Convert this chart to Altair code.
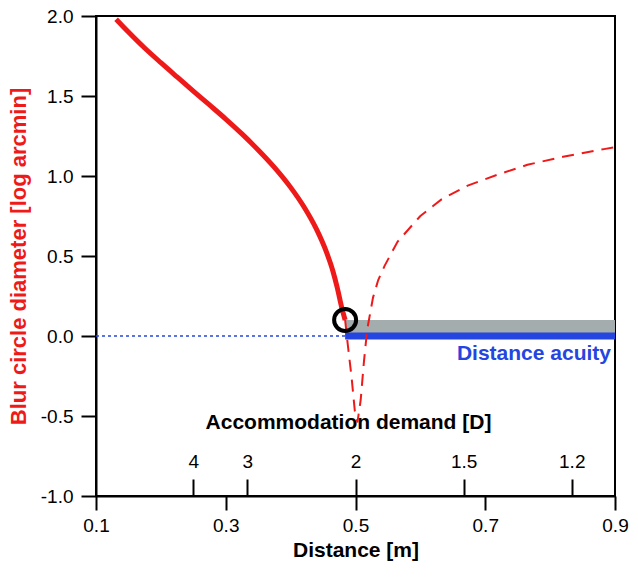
import altair as alt
import pandas as pd

# ---- data ----
solid_dist = [0.131, 0.15, 0.175, 0.2, 0.225, 0.25, 0.275, 0.3, 0.325, 0.35,
              0.375, 0.4, 0.42, 0.44, 0.455, 0.465, 0.472, 0.479, 0.484]
solid_blur = [1.98, 1.90, 1.80, 1.708, 1.619, 1.531, 1.444, 1.356, 1.263, 1.163,
              1.054, 0.929, 0.811, 0.666, 0.527, 0.408, 0.30, 0.174, 0.10]

dashed_dist = [0.484, 0.488, 0.494, 0.499, 0.503, 0.508, 0.513, 0.518, 0.527, 0.535,
               0.545, 0.565, 0.6, 0.633, 0.673, 0.72, 0.765, 0.82, 0.883, 0.9]
dashed_blur = [0.10, -0.05, -0.26, -0.47, -0.54, -0.40, -0.16, 0.04, 0.24, 0.35,
               0.44, 0.59, 0.75, 0.855, 0.94, 1.01, 1.07, 1.12, 1.168, 1.18]

focus_dist = [0.484]
focus_blur = [0.10]

acuity_start = [0.484]
acuity_end = [0.9]
acuity_low = [0.0]
acuity_high = [0.1]

dotted_start = [0.1]

x_ticks = [0.1, 0.3, 0.5, 0.7, 0.9]
y_ticks = [-1.0, -0.5, 0.0, 0.5, 1.0, 1.5, 2.0]
demand_labels = [4, 3, 2, 1.5, 1.2]
demand_dist = [1.0 / d for d in demand_labels]

FONT = "Liberation Sans"
RED = "#ee1a1a"
BLUE = "#2545e0"
GRAY = "#a3adae"
PLOT_W = 519
PLOT_H = 480

solid_df = pd.DataFrame({"dist": solid_dist, "blur": solid_blur})
dashed_df = pd.DataFrame({"dist": dashed_dist, "blur": dashed_blur})
focus_df = pd.DataFrame({"dist": focus_dist, "blur": focus_blur})
band_df = pd.DataFrame({"x": acuity_start, "x2": acuity_end, "y": acuity_low, "y2": acuity_high})
acuity_df = pd.DataFrame({"x": acuity_start, "x2": acuity_end, "y": acuity_low})
dotted_df = pd.DataFrame({"x": dotted_start, "x2": acuity_start, "y": acuity_low})
label_df = pd.DataFrame({"x": acuity_end, "y": [-0.11], "label": ["Distance acuity"]})
demand_df = pd.DataFrame({"dist": demand_dist})

xscale = alt.Scale(domain=[0.1, 0.9], nice=False, zero=False)
yscale = alt.Scale(domain=[-1.0, 2.0], nice=False, zero=False)

xaxis = alt.Axis(values=x_ticks, format=".1f", tickSize=14, tickWidth=2, domainWidth=2,
                 domainColor="black", tickColor="black", labelFontSize=19, labelFont=FONT,
                 labelColor="black", labelPadding=6, labelFlush=False, grid=False,
                 title="Distance [m]", titleFont=FONT, titleFontSize=21,
                 titleFontWeight="bold", titleColor="black", titlePadding=4)
yaxis = alt.Axis(values=y_ticks, tickSize=15, tickWidth=2, domainWidth=2,
                 labelExpr="(datum.value < 0 ? '-' : '') + format(abs(datum.value), '.1f')",
                 domainColor="black", tickColor="black", labelFontSize=19, labelFont=FONT,
                 labelColor="black", labelPadding=8, labelFlush=False, grid=False,
                 title="Blur circle diameter [log arcmin]", titleFont=FONT, titleFontSize=22,
                 titleFontWeight="bold", titleColor=RED, titlePadding=10)

band = alt.Chart(band_df).mark_rect(color=GRAY).encode(
    x=alt.X("x:Q", scale=xscale, axis=xaxis), x2="x2",
    y=alt.Y("y:Q", scale=yscale, axis=yaxis), y2="y2")

dotted = alt.Chart(dotted_df).mark_rule(color=BLUE, strokeWidth=1.5, strokeDash=[3, 3]).encode(
    x=alt.X("x:Q", scale=xscale, axis=xaxis), x2="x2",
    y=alt.Y("y:Q", scale=yscale, axis=yaxis))

acuity = alt.Chart(acuity_df).mark_rule(color=BLUE, strokeWidth=7).encode(
    x=alt.X("x:Q", scale=xscale, axis=xaxis), x2="x2",
    y=alt.Y("y:Q", scale=yscale, axis=yaxis))

dashed = alt.Chart(dashed_df).mark_line(color=RED, strokeWidth=2, strokeDash=[12, 8]).encode(
    x=alt.X("dist:Q", scale=xscale, axis=xaxis),
    y=alt.Y("blur:Q", scale=yscale, axis=yaxis), order="dist:Q")

solid = alt.Chart(solid_df).mark_line(color=RED, strokeWidth=5, interpolate="monotone").encode(
    x=alt.X("dist:Q", scale=xscale, axis=xaxis),
    y=alt.Y("blur:Q", scale=yscale, axis=yaxis), order="dist:Q")

focus = alt.Chart(focus_df).mark_point(shape="circle", size=484, filled=False, stroke="black",
                                       strokeWidth=4, opacity=1).encode(
    x=alt.X("dist:Q", scale=xscale, axis=xaxis),
    y=alt.Y("blur:Q", scale=yscale, axis=yaxis))

label = alt.Chart(label_df).mark_text(align="right", baseline="middle", dx=-4, fontSize=21,
                                      fontWeight="bold", color=BLUE, font=FONT).encode(
    x=alt.X("x:Q", scale=xscale, axis=xaxis),
    y=alt.Y("y:Q", scale=yscale, axis=yaxis), text="label:N")

main = alt.layer(band, dotted, acuity, dashed, solid, focus, label)

demand_axis = alt.Axis(orient="top", offset=-PLOT_H, values=demand_dist,
                       labelExpr="format(1/datum.value, '.1~f')", tickSize=17, tickWidth=2,
                       tickColor="black", domain=False, grid=False, labelFontSize=19,
                       labelFont=FONT, labelColor="black", labelPadding=8, labelFlush=False,
                       title="Accommodation demand [D]", titleFont=FONT, titleFontSize=21,
                       titleFontWeight="bold", titleColor="black", titlePadding=20, titleX=252)

demand = alt.Chart(demand_df).mark_point(opacity=0).encode(
    x=alt.X("dist:Q", scale=alt.Scale(domain=[0.1, 0.9], nice=False, zero=False), axis=demand_axis),
    y=alt.value(0))

chart = alt.layer(main, demand).resolve_scale(x="independent").properties(
    width=PLOT_W, height=PLOT_H,
    padding={"left": 88, "top": 8, "right": 15, "bottom": 69},
    autosize=alt.AutoSizeParams(type="none"),
).configure_view(stroke="black", strokeWidth=2)

chart.save("out.html", embed_options={"renderer": "svg", "actions": False})
